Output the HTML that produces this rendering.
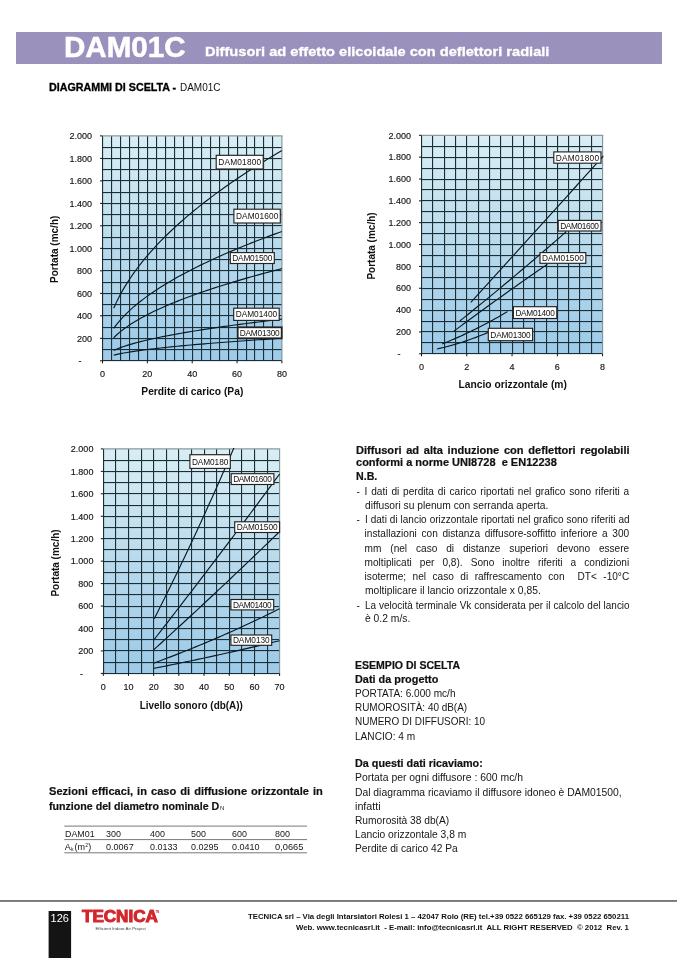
<!DOCTYPE html>
<html lang="it"><head><meta charset="utf-8"><title>DAM01C</title>
<style>
html,body{margin:0;padding:0;background:#fff;}
body{width:677px;height:958px;position:relative;overflow:hidden;font-family:"Liberation Sans", sans-serif;color:#1a1a1a;}
.abs{position:absolute;white-space:nowrap;}
.t{position:absolute;white-space:nowrap;font-size:9.6px;line-height:14px;height:14px;color:#161616;transform-origin:0 50%;}
.j{text-align:justify;text-align-last:justify;white-space:normal;}
.b{font-weight:bold;color:#111;-webkit-text-stroke:0.2px currentColor;}
svg{position:absolute;left:0;top:0;}
svg text{font-family:"Liberation Sans", sans-serif;}
</style></head><body>
<div class="abs" style="left:16px;top:32px;width:646px;height:32px;background:#9a92bc;"></div>
<svg width="677" height="958" viewBox="0 0 677 958">
<defs><linearGradient id="g1" x1="0" y1="0" x2="0" y2="1"><stop offset="0" stop-color="#d9eef4"/><stop offset="0.5" stop-color="#b9daec"/><stop offset="1" stop-color="#9ccae8"/></linearGradient></defs>
<rect x="102.50" y="135.90" width="179.40" height="224.90" fill="url(#g1)"/>
<path d="M102.5 135.90V360.80M111.5 135.90V360.80M120.5 135.90V360.80M129.5 135.90V360.80M138.5 135.90V360.80M147.5 135.90V360.80M156.5 135.90V360.80M165.5 135.90V360.80M174.5 135.90V360.80M183.5 135.90V360.80M192.5 135.90V360.80M201.5 135.90V360.80M210.5 135.90V360.80M219.5 135.90V360.80M228.5 135.90V360.80M237.5 135.90V360.80M246.5 135.90V360.80M254.5 135.90V360.80M263.5 135.90V360.80M272.5 135.90V360.80M102.50 147.5H281.90M102.50 158.5H281.90M102.50 169.5H281.90M102.50 180.5H281.90M102.50 192.5H281.90M102.50 203.5H281.90M102.50 214.5H281.90M102.50 225.5H281.90M102.50 237.5H281.90M102.50 248.5H281.90M102.50 259.5H281.90M102.50 270.5H281.90M102.50 282.5H281.90M102.50 293.5H281.90M102.50 304.5H281.90M102.50 315.5H281.90M102.50 327.5H281.90M102.50 338.5H281.90M102.50 349.5H281.90M102.50 360.5H281.90" stroke="#1b2f36" stroke-width="1" fill="none"/>
<path d="M102.5 135.90V360.80M111.5 135.90V360.80M120.5 135.90V360.80M129.5 135.90V360.80M138.5 135.90V360.80M147.5 135.90V360.80M156.5 135.90V360.80M165.5 135.90V360.80M174.5 135.90V360.80M183.5 135.90V360.80M192.5 135.90V360.80M201.5 135.90V360.80M210.5 135.90V360.80M219.5 135.90V360.80M228.5 135.90V360.80M237.5 135.90V360.80M246.5 135.90V360.80M254.5 135.90V360.80M263.5 135.90V360.80M272.5 135.90V360.80M102.50 147.5H281.90M102.50 158.5H281.90M102.50 169.5H281.90M102.50 180.5H281.90M102.50 192.5H281.90M102.50 203.5H281.90M102.50 214.5H281.90M102.50 225.5H281.90M102.50 237.5H281.90M102.50 248.5H281.90M102.50 259.5H281.90M102.50 270.5H281.90M102.50 282.5H281.90M102.50 293.5H281.90M102.50 304.5H281.90M102.50 315.5H281.90M102.50 327.5H281.90M102.50 338.5H281.90M102.50 349.5H281.90M102.50 360.5H281.90" stroke="#1b2f36" stroke-width="1" fill="none" opacity="0.22" transform="translate(0.5 0.5)"/>
<path d="M281.90 135.90V360.80" stroke="#7d9299" stroke-width="1.1" fill="none"/>
<path d="M102.50 135.90H282.50" stroke="#8a9a9e" stroke-width="1.3" fill="none"/>
<path d="M100.00 135.90H102.50M100.00 158.39H102.50M100.00 180.88H102.50M100.00 203.37H102.50M100.00 225.86H102.50M100.00 248.35H102.50M100.00 270.84H102.50M100.00 293.33H102.50M100.00 315.82H102.50M100.00 338.31H102.50M100.00 360.80H102.50M102.50 360.80V363.30M147.35 360.80V363.30M192.20 360.80V363.30M237.05 360.80V363.30M281.90 360.80V363.30" stroke="#111" stroke-width="1" fill="none"/>
<text x="92.0" y="139.1" font-size="9" text-anchor="end" fill="#151515" stroke="#151515" stroke-width="0.15">2.000</text>
<text x="92.0" y="161.6" font-size="9" text-anchor="end" fill="#151515" stroke="#151515" stroke-width="0.15">1.800</text>
<text x="92.0" y="184.1" font-size="9" text-anchor="end" fill="#151515" stroke="#151515" stroke-width="0.15">1.600</text>
<text x="92.0" y="206.6" font-size="9" text-anchor="end" fill="#151515" stroke="#151515" stroke-width="0.15">1.400</text>
<text x="92.0" y="229.1" font-size="9" text-anchor="end" fill="#151515" stroke="#151515" stroke-width="0.15">1.200</text>
<text x="92.0" y="251.6" font-size="9" text-anchor="end" fill="#151515" stroke="#151515" stroke-width="0.15">1.000</text>
<text x="92.0" y="274.0" font-size="9" text-anchor="end" fill="#151515" stroke="#151515" stroke-width="0.15">800</text>
<text x="92.0" y="296.5" font-size="9" text-anchor="end" fill="#151515" stroke="#151515" stroke-width="0.15">600</text>
<text x="92.0" y="319.0" font-size="9" text-anchor="end" fill="#151515" stroke="#151515" stroke-width="0.15">400</text>
<text x="92.0" y="341.5" font-size="9" text-anchor="end" fill="#151515" stroke="#151515" stroke-width="0.15">200</text>
<text x="81.5" y="364.0" font-size="9" text-anchor="end" fill="#151515" stroke="#151515" stroke-width="0.15">-</text>
<text x="102.5" y="377.3" font-size="9" text-anchor="middle" fill="#151515" stroke="#151515" stroke-width="0.15">0</text>
<text x="147.3" y="377.3" font-size="9" text-anchor="middle" fill="#151515" stroke="#151515" stroke-width="0.15">20</text>
<text x="192.2" y="377.3" font-size="9" text-anchor="middle" fill="#151515" stroke="#151515" stroke-width="0.15">40</text>
<text x="237.0" y="377.3" font-size="9" text-anchor="middle" fill="#151515" stroke="#151515" stroke-width="0.15">60</text>
<text x="281.9" y="377.3" font-size="9" text-anchor="middle" fill="#151515" stroke="#151515" stroke-width="0.15">80</text>
<text x="192.3" y="395.0" font-size="10" font-weight="bold" text-anchor="middle" fill="#111" textLength="102.0" lengthAdjust="spacingAndGlyphs">Perdite di carico (Pa)</text>
<text transform="translate(57.7 249.3) rotate(-90)" font-size="10" font-weight="bold" text-anchor="middle" fill="#111">Portata (mc/h)</text>
<clipPath id="c1"><rect x="102.50" y="134.90" width="180.40" height="225.90"/></clipPath>
<path d="M113.71 308.25L117.08 300.88L120.44 294.33L123.80 288.36L127.17 282.85L130.53 277.71L133.89 272.86L137.26 268.27L140.62 263.90L143.99 259.71L147.35 255.70L150.71 251.83L154.08 248.09L157.44 244.47L160.81 240.96L164.17 237.55L167.53 234.24L170.90 231.01L174.26 227.85L177.62 224.77L180.99 221.76L184.35 218.81L187.71 215.92L191.08 213.09L194.44 210.31L197.81 207.59L201.17 204.91L204.53 202.27L207.90 199.68L211.26 197.13L214.62 194.62L217.99 192.14L221.35 189.70L224.72 187.30L228.08 184.93L231.44 182.59L234.81 180.28L238.17 178.00L241.53 175.74L244.90 173.52L248.26 171.32L251.63 169.15L254.99 167.00L258.35 164.87L261.72 162.77L265.08 160.69L268.44 158.63L271.81 156.59L275.17 154.57L278.54 152.57L281.90 150.59" stroke="#0b1a22" stroke-width="1.15" fill="none" clip-path="url(#c1)"/>
<path d="M113.71 328.46L117.08 323.93L120.44 319.90L123.80 316.23L127.17 312.84L130.53 309.67L133.89 306.69L137.26 303.87L140.62 301.18L143.99 298.60L147.35 296.13L150.71 293.75L154.08 291.45L157.44 289.22L160.81 287.06L164.17 284.97L167.53 282.92L170.90 280.94L174.26 279.00L177.62 277.10L180.99 275.25L184.35 273.43L187.71 271.66L191.08 269.91L194.44 268.20L197.81 266.53L201.17 264.88L204.53 263.25L207.90 261.66L211.26 260.09L214.62 258.54L217.99 257.02L221.35 255.52L224.72 254.04L228.08 252.58L231.44 251.14L234.81 249.72L238.17 248.32L241.53 246.93L244.90 245.56L248.26 244.21L251.63 242.87L254.99 241.55L258.35 240.24L261.72 238.95L265.08 237.67L268.44 236.40L271.81 235.15L275.17 233.90L278.54 232.67L281.90 231.46" stroke="#0b1a22" stroke-width="1.15" fill="none" clip-path="url(#c1)"/>
<path d="M113.71 337.74L117.08 334.51L120.44 331.63L123.80 329.02L127.17 326.60L130.53 324.34L133.89 322.22L137.26 320.20L140.62 318.28L143.99 316.45L147.35 314.68L150.71 312.99L154.08 311.35L157.44 309.76L160.81 308.22L164.17 306.73L167.53 305.27L170.90 303.85L174.26 302.47L177.62 301.12L180.99 299.80L184.35 298.50L187.71 297.23L191.08 295.99L194.44 294.77L197.81 293.58L201.17 292.40L204.53 291.24L207.90 290.11L211.26 288.99L214.62 287.89L217.99 286.80L221.35 285.73L224.72 284.68L228.08 283.63L231.44 282.61L234.81 281.59L238.17 280.59L241.53 279.61L244.90 278.63L248.26 277.66L251.63 276.71L254.99 275.77L258.35 274.84L261.72 273.91L265.08 273.00L268.44 272.10L271.81 271.20L275.17 270.32L278.54 269.44L281.90 268.57" stroke="#0b1a22" stroke-width="1.15" fill="none" clip-path="url(#c1)"/>
<path d="M113.71 350.39L117.08 348.93L120.44 347.63L123.80 346.45L127.17 345.36L130.53 344.34L133.89 343.38L137.26 342.47L140.62 341.61L143.99 340.78L147.35 339.98L150.71 339.21L154.08 338.47L157.44 337.76L160.81 337.06L164.17 336.39L167.53 335.73L170.90 335.09L174.26 334.46L177.62 333.85L180.99 333.26L184.35 332.67L187.71 332.10L191.08 331.54L194.44 330.99L197.81 330.45L201.17 329.92L204.53 329.40L207.90 328.88L211.26 328.38L214.62 327.88L217.99 327.39L221.35 326.91L224.72 326.43L228.08 325.96L231.44 325.50L234.81 325.04L238.17 324.59L241.53 324.14L244.90 323.70L248.26 323.27L251.63 322.84L254.99 322.41L258.35 321.99L261.72 321.57L265.08 321.16L268.44 320.75L271.81 320.35L275.17 319.95L278.54 319.55L281.90 319.16" stroke="#0b1a22" stroke-width="1.15" fill="none" clip-path="url(#c1)"/>
<path d="M113.71 355.17L117.08 354.38L120.44 353.68L123.80 353.04L127.17 352.45L130.53 351.89L133.89 351.38L137.26 350.88L140.62 350.41L143.99 349.97L147.35 349.54L150.71 349.12L154.08 348.72L157.44 348.33L160.81 347.96L164.17 347.59L167.53 347.24L170.90 346.89L174.26 346.55L177.62 346.22L180.99 345.90L184.35 345.58L187.71 345.27L191.08 344.97L194.44 344.67L197.81 344.38L201.17 344.09L204.53 343.81L207.90 343.53L211.26 343.26L214.62 342.99L217.99 342.72L221.35 342.46L224.72 342.20L228.08 341.95L231.44 341.70L234.81 341.45L238.17 341.21L241.53 340.97L244.90 340.73L248.26 340.49L251.63 340.26L254.99 340.03L258.35 339.80L261.72 339.58L265.08 339.35L268.44 339.13L271.81 338.91L275.17 338.70L278.54 338.48L281.90 338.27" stroke="#0b1a22" stroke-width="1.15" fill="none" clip-path="url(#c1)"/>
<rect x="216.2" y="155.3" width="47.0" height="13.7" fill="#fff" stroke="#222" stroke-width="1.15"/>
<text x="239.7" y="165.2" font-size="8.3" text-anchor="middle" fill="#111" textLength="43.0" lengthAdjust="spacing">DAM01800</text>
<rect x="233.9" y="209.2" width="46.4" height="13.8" fill="#fff" stroke="#222" stroke-width="1.15"/>
<text x="257.1" y="219.1" font-size="8.3" text-anchor="middle" fill="#111" textLength="42.4" lengthAdjust="spacing">DAM01600</text>
<rect x="230.3" y="252.6" width="44.0" height="10.9" fill="#fff" stroke="#222" stroke-width="1.15"/>
<text x="252.3" y="261.1" font-size="8.3" text-anchor="middle" fill="#111" textLength="40.0" lengthAdjust="spacing">DAM01500</text>
<rect x="233.7" y="308.2" width="45.5" height="12.2" fill="#fff" stroke="#222" stroke-width="1.15"/>
<text x="256.4" y="317.3" font-size="8.3" text-anchor="middle" fill="#111" textLength="41.5" lengthAdjust="spacing">DAM01400</text>
<rect x="237.7" y="327.3" width="44.0" height="11.0" fill="#fff" stroke="#222" stroke-width="1.8"/>
<text x="259.7" y="335.8" font-size="8.3" text-anchor="middle" fill="#111" textLength="40.0" lengthAdjust="spacing">DAM01300</text>
<defs><linearGradient id="g2" x1="0" y1="0" x2="0" y2="1"><stop offset="0" stop-color="#d9eef4"/><stop offset="0.5" stop-color="#b9daec"/><stop offset="1" stop-color="#9ccae8"/></linearGradient></defs>
<rect x="421.50" y="135.30" width="181.10" height="218.50" fill="url(#g2)"/>
<path d="M421.5 135.30V353.80M432.5 135.30V353.80M444.5 135.30V353.80M455.5 135.30V353.80M466.5 135.30V353.80M478.5 135.30V353.80M489.5 135.30V353.80M500.5 135.30V353.80M512.5 135.30V353.80M523.5 135.30V353.80M534.5 135.30V353.80M546.5 135.30V353.80M557.5 135.30V353.80M568.5 135.30V353.80M579.5 135.30V353.80M591.5 135.30V353.80M421.50 146.5H602.60M421.50 157.5H602.60M421.50 168.5H602.60M421.50 179.5H602.60M421.50 189.5H602.60M421.50 200.5H602.60M421.50 211.5H602.60M421.50 222.5H602.60M421.50 233.5H602.60M421.50 244.5H602.60M421.50 255.5H602.60M421.50 266.5H602.60M421.50 277.5H602.60M421.50 288.5H602.60M421.50 299.5H602.60M421.50 310.5H602.60M421.50 321.5H602.60M421.50 331.5H602.60M421.50 342.5H602.60M421.50 353.5H602.60" stroke="#1b2f36" stroke-width="1" fill="none"/>
<path d="M421.5 135.30V353.80M432.5 135.30V353.80M444.5 135.30V353.80M455.5 135.30V353.80M466.5 135.30V353.80M478.5 135.30V353.80M489.5 135.30V353.80M500.5 135.30V353.80M512.5 135.30V353.80M523.5 135.30V353.80M534.5 135.30V353.80M546.5 135.30V353.80M557.5 135.30V353.80M568.5 135.30V353.80M579.5 135.30V353.80M591.5 135.30V353.80M421.50 146.5H602.60M421.50 157.5H602.60M421.50 168.5H602.60M421.50 179.5H602.60M421.50 189.5H602.60M421.50 200.5H602.60M421.50 211.5H602.60M421.50 222.5H602.60M421.50 233.5H602.60M421.50 244.5H602.60M421.50 255.5H602.60M421.50 266.5H602.60M421.50 277.5H602.60M421.50 288.5H602.60M421.50 299.5H602.60M421.50 310.5H602.60M421.50 321.5H602.60M421.50 331.5H602.60M421.50 342.5H602.60M421.50 353.5H602.60" stroke="#1b2f36" stroke-width="1" fill="none" opacity="0.22" transform="translate(0.5 0.5)"/>
<path d="M602.60 135.30V353.80" stroke="#7d9299" stroke-width="1.1" fill="none"/>
<path d="M421.50 135.30H603.20" stroke="#8a9a9e" stroke-width="1.3" fill="none"/>
<path d="M419.00 135.30H421.50M419.00 157.15H421.50M419.00 179.00H421.50M419.00 200.85H421.50M419.00 222.70H421.50M419.00 244.55H421.50M419.00 266.40H421.50M419.00 288.25H421.50M419.00 310.10H421.50M419.00 331.95H421.50M419.00 353.80H421.50M421.50 353.80V356.30M466.77 353.80V356.30M512.05 353.80V356.30M557.33 353.80V356.30M602.60 353.80V356.30" stroke="#111" stroke-width="1" fill="none"/>
<text x="411.0" y="138.5" font-size="9" text-anchor="end" fill="#151515" stroke="#151515" stroke-width="0.15">2.000</text>
<text x="411.0" y="160.3" font-size="9" text-anchor="end" fill="#151515" stroke="#151515" stroke-width="0.15">1.800</text>
<text x="411.0" y="182.2" font-size="9" text-anchor="end" fill="#151515" stroke="#151515" stroke-width="0.15">1.600</text>
<text x="411.0" y="204.1" font-size="9" text-anchor="end" fill="#151515" stroke="#151515" stroke-width="0.15">1.400</text>
<text x="411.0" y="225.9" font-size="9" text-anchor="end" fill="#151515" stroke="#151515" stroke-width="0.15">1.200</text>
<text x="411.0" y="247.8" font-size="9" text-anchor="end" fill="#151515" stroke="#151515" stroke-width="0.15">1.000</text>
<text x="411.0" y="269.6" font-size="9" text-anchor="end" fill="#151515" stroke="#151515" stroke-width="0.15">800</text>
<text x="411.0" y="291.4" font-size="9" text-anchor="end" fill="#151515" stroke="#151515" stroke-width="0.15">600</text>
<text x="411.0" y="313.3" font-size="9" text-anchor="end" fill="#151515" stroke="#151515" stroke-width="0.15">400</text>
<text x="411.0" y="335.2" font-size="9" text-anchor="end" fill="#151515" stroke="#151515" stroke-width="0.15">200</text>
<text x="400.5" y="357.0" font-size="9" text-anchor="end" fill="#151515" stroke="#151515" stroke-width="0.15">-</text>
<text x="421.5" y="370.2" font-size="9" text-anchor="middle" fill="#151515" stroke="#151515" stroke-width="0.15">0</text>
<text x="466.8" y="370.2" font-size="9" text-anchor="middle" fill="#151515" stroke="#151515" stroke-width="0.15">2</text>
<text x="512.0" y="370.2" font-size="9" text-anchor="middle" fill="#151515" stroke="#151515" stroke-width="0.15">4</text>
<text x="557.3" y="370.2" font-size="9" text-anchor="middle" fill="#151515" stroke="#151515" stroke-width="0.15">6</text>
<text x="602.6" y="370.2" font-size="9" text-anchor="middle" fill="#151515" stroke="#151515" stroke-width="0.15">8</text>
<text x="512.7" y="388.0" font-size="10" font-weight="bold" text-anchor="middle" fill="#111" textLength="108.3" lengthAdjust="spacingAndGlyphs">Lancio orizzontale (m)</text>
<text transform="translate(375.0 246.0) rotate(-90)" font-size="10" font-weight="bold" text-anchor="middle" fill="#111">Portata (mc/h)</text>
<clipPath id="c2"><rect x="421.50" y="134.30" width="182.10" height="219.50"/></clipPath>
<path d="M470.85 302.27L474.25 298.54L477.65 294.80L481.05 291.06L484.46 287.32L487.86 283.58L491.26 279.84L494.66 276.10L498.06 272.35L501.46 268.61L504.86 264.86L508.27 261.12L511.67 257.37L515.07 253.62L518.47 249.87L521.87 246.13L525.27 242.37L528.67 238.62L532.08 234.87L535.48 231.12L538.88 227.36L542.28 223.61L545.68 219.85L549.08 216.09L552.48 212.33L555.89 208.57L559.29 204.81L562.69 201.05L566.09 197.29L569.49 193.53L572.89 189.76L576.29 186.00L579.70 182.23L583.10 178.46L586.50 174.70L589.90 170.93L593.30 167.16L596.70 163.39L600.10 159.61L603.51 155.84" stroke="#0b1a22" stroke-width="1.15" fill="none" clip-path="url(#c2)"/>
<path d="M459.76 321.04L462.49 318.84L465.23 316.64L467.96 314.44L470.69 312.23L473.43 310.01L476.16 307.79L478.89 305.57L481.63 303.34L484.36 301.10L487.10 298.86L489.83 296.61L492.56 294.36L495.30 292.10L498.03 289.84L500.77 287.57L503.50 285.30L506.23 283.02L508.97 280.73L511.70 278.44L514.44 276.15L517.17 273.85L519.90 271.54L522.64 269.23L525.37 266.92L528.11 264.60L530.84 262.27L533.57 259.94L536.31 257.60L539.04 255.26L541.77 252.91L544.51 250.56L547.24 248.20L549.98 245.83L552.71 243.47L555.44 241.09L558.18 238.71L560.91 236.33L563.65 233.94L566.38 231.54" stroke="#0b1a22" stroke-width="1.15" fill="none" clip-path="url(#c2)"/>
<path d="M453.87 331.18L456.27 329.40L458.67 327.62L461.06 325.84L463.46 324.07L465.86 322.30L468.26 320.53L470.65 318.77L473.05 317.01L475.45 315.25L477.84 313.50L480.24 311.75L482.64 310.01L485.04 308.27L487.43 306.53L489.83 304.79L492.23 303.06L494.62 301.33L497.02 299.61L499.42 297.89L501.82 296.17L504.21 294.46L506.61 292.75L509.01 291.04L511.41 289.34L513.80 287.64L516.20 285.94L518.60 284.25L520.99 282.56L523.39 280.88L525.79 279.20L528.19 277.52L530.58 275.84L532.98 274.17L535.38 272.50L537.78 270.84L540.17 269.18L542.57 267.52L544.97 265.87L547.36 264.22" stroke="#0b1a22" stroke-width="1.15" fill="none" clip-path="url(#c2)"/>
<path d="M442.10 344.01L443.78 343.34L445.46 342.65L447.13 341.96L448.81 341.27L450.49 340.56L452.17 339.84L453.84 339.12L455.52 338.39L457.20 337.65L458.88 336.90L460.55 336.15L462.23 335.38L463.91 334.61L465.59 333.83L467.26 333.04L468.94 332.24L470.62 331.44L472.30 330.62L473.97 329.80L475.65 328.97L477.33 328.13L479.01 327.29L480.68 326.43L482.36 325.57L484.04 324.70L485.72 323.82L487.39 322.93L489.07 322.03L490.75 321.13L492.43 320.22L494.10 319.29L495.78 318.37L497.46 317.43L499.14 316.48L500.81 315.53L502.49 314.56L504.17 313.59L505.85 312.62L507.52 311.63" stroke="#0b1a22" stroke-width="1.15" fill="none" clip-path="url(#c2)"/>
<path d="M436.89 349.02L438.22 348.72L439.54 348.42L440.86 348.11L442.19 347.79L443.51 347.47L444.83 347.14L446.16 346.80L447.48 346.45L448.80 346.10L450.13 345.74L451.45 345.37L452.77 345.00L454.10 344.62L455.42 344.23L456.74 343.84L458.07 343.44L459.39 343.03L460.72 342.61L462.04 342.19L463.36 341.76L464.69 341.33L466.01 340.88L467.33 340.43L468.66 339.98L469.98 339.51L471.30 339.04L472.63 338.56L473.95 338.08L475.27 337.59L476.60 337.09L477.92 336.58L479.24 336.07L480.57 335.55L481.89 335.02L483.21 334.49L484.54 333.94L485.86 333.40L487.18 332.84L488.51 332.28" stroke="#0b1a22" stroke-width="1.15" fill="none" clip-path="url(#c2)"/>
<rect x="553.8" y="151.9" width="47.2" height="11.3" fill="#fff" stroke="#222" stroke-width="1.15"/>
<text x="577.4" y="160.6" font-size="8.3" text-anchor="middle" fill="#111" textLength="43.2" lengthAdjust="spacing">DAM01800</text>
<rect x="558.2" y="220.4" width="42.8" height="10.6" fill="#fff" stroke="#222" stroke-width="1.15"/>
<text x="579.6" y="228.7" font-size="8.3" text-anchor="middle" fill="#111" textLength="38.8" lengthAdjust="spacing">DAM01600</text>
<rect x="540.0" y="252.6" width="45.8" height="10.7" fill="#fff" stroke="#222" stroke-width="1.15"/>
<text x="562.9" y="260.9" font-size="8.3" text-anchor="middle" fill="#111" textLength="41.8" lengthAdjust="spacing">DAM01500</text>
<rect x="513.4" y="306.7" width="43.4" height="11.8" fill="#fff" stroke="#222" stroke-width="1.15"/>
<text x="535.1" y="315.6" font-size="8.3" text-anchor="middle" fill="#111" textLength="39.4" lengthAdjust="spacing">DAM01400</text>
<rect x="488.3" y="328.3" width="44.3" height="12.4" fill="#fff" stroke="#222" stroke-width="1.15"/>
<text x="510.5" y="337.5" font-size="8.3" text-anchor="middle" fill="#111" textLength="40.3" lengthAdjust="spacing">DAM01300</text>
<defs><linearGradient id="g3" x1="0" y1="0" x2="0" y2="1"><stop offset="0" stop-color="#d9eef4"/><stop offset="0.5" stop-color="#b9daec"/><stop offset="1" stop-color="#9ccae8"/></linearGradient></defs>
<rect x="103.30" y="448.90" width="176.30" height="224.50" fill="url(#g3)"/>
<path d="M103.5 448.90V673.40M115.5 448.90V673.40M128.5 448.90V673.40M141.5 448.90V673.40M153.5 448.90V673.40M166.5 448.90V673.40M178.5 448.90V673.40M191.5 448.90V673.40M204.5 448.90V673.40M216.5 448.90V673.40M229.5 448.90V673.40M241.5 448.90V673.40M254.5 448.90V673.40M267.5 448.90V673.40M103.30 460.5H279.60M103.30 471.5H279.60M103.30 482.5H279.60M103.30 493.5H279.60M103.30 505.5H279.60M103.30 516.5H279.60M103.30 527.5H279.60M103.30 538.5H279.60M103.30 549.5H279.60M103.30 561.5H279.60M103.30 572.5H279.60M103.30 583.5H279.60M103.30 594.5H279.60M103.30 606.5H279.60M103.30 617.5H279.60M103.30 628.5H279.60M103.30 639.5H279.60M103.30 650.5H279.60M103.30 662.5H279.60M103.30 673.5H279.60" stroke="#1b2f36" stroke-width="1" fill="none"/>
<path d="M103.5 448.90V673.40M115.5 448.90V673.40M128.5 448.90V673.40M141.5 448.90V673.40M153.5 448.90V673.40M166.5 448.90V673.40M178.5 448.90V673.40M191.5 448.90V673.40M204.5 448.90V673.40M216.5 448.90V673.40M229.5 448.90V673.40M241.5 448.90V673.40M254.5 448.90V673.40M267.5 448.90V673.40M103.30 460.5H279.60M103.30 471.5H279.60M103.30 482.5H279.60M103.30 493.5H279.60M103.30 505.5H279.60M103.30 516.5H279.60M103.30 527.5H279.60M103.30 538.5H279.60M103.30 549.5H279.60M103.30 561.5H279.60M103.30 572.5H279.60M103.30 583.5H279.60M103.30 594.5H279.60M103.30 606.5H279.60M103.30 617.5H279.60M103.30 628.5H279.60M103.30 639.5H279.60M103.30 650.5H279.60M103.30 662.5H279.60M103.30 673.5H279.60" stroke="#1b2f36" stroke-width="1" fill="none" opacity="0.22" transform="translate(0.5 0.5)"/>
<path d="M279.60 448.90V673.40" stroke="#7d9299" stroke-width="1.1" fill="none"/>
<path d="M103.30 448.90H280.20" stroke="#8a9a9e" stroke-width="1.3" fill="none"/>
<path d="M100.80 448.90H103.30M100.80 471.35H103.30M100.80 493.80H103.30M100.80 516.25H103.30M100.80 538.70H103.30M100.80 561.15H103.30M100.80 583.60H103.30M100.80 606.05H103.30M100.80 628.50H103.30M100.80 650.95H103.30M100.80 673.40H103.30M103.30 673.40V675.90M128.49 673.40V675.90M153.67 673.40V675.90M178.86 673.40V675.90M204.04 673.40V675.90M229.23 673.40V675.90M254.41 673.40V675.90M279.60 673.40V675.90" stroke="#111" stroke-width="1" fill="none"/>
<text x="93.4" y="452.1" font-size="9" text-anchor="end" fill="#151515" stroke="#151515" stroke-width="0.15">2.000</text>
<text x="93.4" y="474.5" font-size="9" text-anchor="end" fill="#151515" stroke="#151515" stroke-width="0.15">1.800</text>
<text x="93.4" y="497.0" font-size="9" text-anchor="end" fill="#151515" stroke="#151515" stroke-width="0.15">1.600</text>
<text x="93.4" y="519.5" font-size="9" text-anchor="end" fill="#151515" stroke="#151515" stroke-width="0.15">1.400</text>
<text x="93.4" y="541.9" font-size="9" text-anchor="end" fill="#151515" stroke="#151515" stroke-width="0.15">1.200</text>
<text x="93.4" y="564.4" font-size="9" text-anchor="end" fill="#151515" stroke="#151515" stroke-width="0.15">1.000</text>
<text x="93.4" y="586.8" font-size="9" text-anchor="end" fill="#151515" stroke="#151515" stroke-width="0.15">800</text>
<text x="93.4" y="609.2" font-size="9" text-anchor="end" fill="#151515" stroke="#151515" stroke-width="0.15">600</text>
<text x="93.4" y="631.7" font-size="9" text-anchor="end" fill="#151515" stroke="#151515" stroke-width="0.15">400</text>
<text x="93.4" y="654.2" font-size="9" text-anchor="end" fill="#151515" stroke="#151515" stroke-width="0.15">200</text>
<text x="82.9" y="676.6" font-size="9" text-anchor="end" fill="#151515" stroke="#151515" stroke-width="0.15">-</text>
<text x="103.3" y="689.6" font-size="9" text-anchor="middle" fill="#151515" stroke="#151515" stroke-width="0.15">0</text>
<text x="128.5" y="689.6" font-size="9" text-anchor="middle" fill="#151515" stroke="#151515" stroke-width="0.15">10</text>
<text x="153.7" y="689.6" font-size="9" text-anchor="middle" fill="#151515" stroke="#151515" stroke-width="0.15">20</text>
<text x="178.9" y="689.6" font-size="9" text-anchor="middle" fill="#151515" stroke="#151515" stroke-width="0.15">30</text>
<text x="204.0" y="689.6" font-size="9" text-anchor="middle" fill="#151515" stroke="#151515" stroke-width="0.15">40</text>
<text x="229.2" y="689.6" font-size="9" text-anchor="middle" fill="#151515" stroke="#151515" stroke-width="0.15">50</text>
<text x="254.4" y="689.6" font-size="9" text-anchor="middle" fill="#151515" stroke="#151515" stroke-width="0.15">60</text>
<text x="279.6" y="689.6" font-size="9" text-anchor="middle" fill="#151515" stroke="#151515" stroke-width="0.15">70</text>
<text x="191.3" y="708.6" font-size="10" font-weight="bold" text-anchor="middle" fill="#111" textLength="103.2" lengthAdjust="spacingAndGlyphs">Livello sonoro (db(A))</text>
<text transform="translate(58.5 563.0) rotate(-90)" font-size="10" font-weight="bold" text-anchor="middle" fill="#111">Portata (mc/h)</text>
<clipPath id="c3"><rect x="103.30" y="447.90" width="177.30" height="225.50"/></clipPath>
<path d="M154.18 618.80L156.29 614.64L158.41 610.46L160.53 606.26L162.65 602.04L164.77 597.79L166.88 593.53L169.00 589.24L171.12 584.93L173.24 580.61L175.36 576.26L177.48 571.89L179.59 567.50L181.71 563.09L183.83 558.66L185.95 554.21L188.07 549.73L190.18 545.24L192.30 540.73L194.42 536.19L196.54 531.64L198.66 527.06L200.78 522.46L202.89 517.84L205.01 513.20L207.13 508.54L209.25 503.86L211.37 499.16L213.48 494.44L215.60 489.69L217.72 484.93L219.84 480.15L221.96 475.34L224.08 470.51L226.19 465.67L228.31 460.80L230.43 455.91L232.55 451.00L234.67 446.07L236.78 441.12" stroke="#0b1a22" stroke-width="1.15" fill="none" clip-path="url(#c3)"/>
<path d="M153.67 640.11L156.90 635.98L160.13 631.83L163.36 627.68L166.59 623.53L169.82 619.37L173.05 615.20L176.27 611.02L179.50 606.84L182.73 602.65L185.96 598.46L189.19 594.26L192.42 590.05L195.65 585.84L198.88 581.62L202.11 577.39L205.33 573.16L208.56 568.92L211.79 564.67L215.02 560.42L218.25 556.16L221.48 551.90L224.71 547.62L227.94 543.34L231.17 539.06L234.39 534.77L237.62 530.47L240.85 526.17L244.08 521.86L247.31 517.54L250.54 513.22L253.77 508.89L257.00 504.55L260.23 500.21L263.46 495.86L266.68 491.50L269.91 487.14L273.14 482.77L276.37 478.39L279.60 474.01" stroke="#0b1a22" stroke-width="1.15" fill="none" clip-path="url(#c3)"/>
<path d="M153.67 649.85L156.90 646.91L160.13 643.97L163.36 641.03L166.59 638.08L169.82 635.12L173.05 632.16L176.27 629.20L179.50 626.23L182.73 623.25L185.96 620.27L189.19 617.29L192.42 614.29L195.65 611.30L198.88 608.30L202.11 605.29L205.33 602.28L208.56 599.26L211.79 596.24L215.02 593.22L218.25 590.18L221.48 587.15L224.71 584.11L227.94 581.06L231.17 578.01L234.39 574.95L237.62 571.89L240.85 568.82L244.08 565.75L247.31 562.67L250.54 559.59L253.77 556.50L257.00 553.41L260.23 550.31L263.46 547.21L266.68 544.10L269.91 540.98L273.14 537.87L276.37 534.74L279.60 531.61" stroke="#0b1a22" stroke-width="1.15" fill="none" clip-path="url(#c3)"/>
<path d="M153.67 663.11L156.90 661.93L160.13 660.74L163.36 659.54L166.59 658.32L169.82 657.10L173.05 655.86L176.27 654.61L179.50 653.35L182.73 652.08L185.96 650.80L189.19 649.50L192.42 648.20L195.65 646.88L198.88 645.55L202.11 644.22L205.33 642.87L208.56 641.51L211.79 640.13L215.02 638.75L218.25 637.36L221.48 635.95L224.71 634.53L227.94 633.10L231.17 631.66L234.39 630.21L237.62 628.75L240.85 627.28L244.08 625.79L247.31 624.30L250.54 622.79L253.77 621.27L257.00 619.74L260.23 618.20L263.46 616.65L266.68 615.08L269.91 613.51L273.14 611.92L276.37 610.33L279.60 608.72" stroke="#0b1a22" stroke-width="1.15" fill="none" clip-path="url(#c3)"/>
<path d="M153.67 668.39L156.90 667.75L160.13 667.11L163.36 666.47L166.59 665.83L169.82 665.18L173.05 664.52L176.27 663.86L179.50 663.20L182.73 662.54L185.96 661.87L189.19 661.19L192.42 660.51L195.65 659.83L198.88 659.15L202.11 658.46L205.33 657.76L208.56 657.07L211.79 656.36L215.02 655.66L218.25 654.95L221.48 654.23L224.71 653.52L227.94 652.80L231.17 652.07L234.39 651.34L237.62 650.61L240.85 649.87L244.08 649.13L247.31 648.38L250.54 647.63L253.77 646.88L257.00 646.12L260.23 645.36L263.46 644.60L266.68 643.83L269.91 643.05L273.14 642.28L276.37 641.50L279.60 640.71" stroke="#0b1a22" stroke-width="1.15" fill="none" clip-path="url(#c3)"/>
<rect x="189.9" y="454.7" width="40.4" height="13.7" fill="#fff" stroke="#222" stroke-width="1.15"/>
<text x="210.1" y="464.5" font-size="8.3" text-anchor="middle" fill="#111" textLength="36.4" lengthAdjust="spacing">DAM0180</text>
<rect x="231.2" y="473.7" width="42.7" height="10.8" fill="#fff" stroke="#222" stroke-width="1.15"/>
<text x="252.5" y="482.1" font-size="8.3" text-anchor="middle" fill="#111" textLength="38.7" lengthAdjust="spacing">DAM01600</text>
<rect x="234.7" y="521.8" width="44.9" height="10.7" fill="#fff" stroke="#222" stroke-width="1.15"/>
<text x="257.1" y="530.1" font-size="8.3" text-anchor="middle" fill="#111" textLength="40.9" lengthAdjust="spacing">DAM01500</text>
<rect x="230.9" y="599.5" width="42.8" height="10.4" fill="#fff" stroke="#222" stroke-width="1.15"/>
<text x="252.3" y="607.7" font-size="8.3" text-anchor="middle" fill="#111" textLength="38.8" lengthAdjust="spacing">DAM01400</text>
<rect x="230.9" y="635.0" width="40.8" height="10.3" fill="#fff" stroke="#222" stroke-width="1.15"/>
<text x="251.3" y="643.1" font-size="8.3" text-anchor="middle" fill="#111" textLength="36.8" lengthAdjust="spacing">DAM0130</text>
<path d="M64.3 826.1H307M64.3 839.6H307M64.3 852.8H307" stroke="#555" stroke-width="0.8" fill="none"/>
<rect x="0" y="900.1" width="677" height="1.7" fill="#686868"/>
<rect x="48.6" y="911" width="22.5" height="47" fill="#141414"/>
</svg>
<div class="t b" style="left:355.6px;top:443.40px;font-size:10.6px;word-spacing:1.550px;transform:scaleX(1.0450);">Diffusori ad alta induzione con deflettori regolabili</div>
<div class="t b" style="left:355.6px;top:455.20px;font-size:10.6px;transform:scaleX(1.0397);">conformi a norme UNI8728&nbsp; e EN12238</div>
<div class="t b" style="left:355.6px;top:469.40px;font-size:10.6px;transform:scaleX(1.0053);">N.B.</div>
<div class="t" style="left:356.5px;top:484.66px;font-size:10.1px;">-</div>
<div class="t" style="left:364.6px;top:484.66px;font-size:10.1px;word-spacing:1.052px;transform:scaleX(1.0000);">I dati di perdita di carico riportati nel grafico sono riferiti a</div>
<div class="t" style="left:364.6px;top:498.86px;font-size:10.1px;transform:scaleX(1.0155);">diffusori su plenum con serranda aperta.</div>
<div class="t" style="left:356.5px;top:513.06px;font-size:10.1px;">-</div>
<div class="t" style="left:364.6px;top:513.06px;font-size:10.1px;word-spacing:0.200px;transform:scaleX(0.9896);">I dati di lancio orizzontale riportati nel grafico sono riferiti ad</div>
<div class="t" style="left:364.6px;top:527.26px;font-size:10.1px;word-spacing:1.892px;transform:scaleX(1.0000);">installazioni con distanza diffusore-soffitto inferiore a 300</div>
<div class="t" style="left:364.6px;top:541.86px;font-size:10.1px;word-spacing:6.061px;transform:scaleX(1.0000);">mm (nel caso di distanze superiori devono essere</div>
<div class="t" style="left:364.6px;top:555.56px;font-size:10.1px;word-spacing:5.260px;transform:scaleX(1.0000);">moltiplicati per 0,8). Sono inoltre riferiti a condizioni</div>
<div class="t" style="left:364.6px;top:569.66px;font-size:10.1px;word-spacing:3.665px;transform:scaleX(1.0000);">isoterme; nel caso di raffrescamento con&nbsp; DT&lt; -10°C</div>
<div class="t" style="left:364.6px;top:583.96px;font-size:10.1px;transform:scaleX(1.0206);">moltiplicare il lancio orizzontale x 0,85.</div>
<div class="t" style="left:356.5px;top:598.56px;font-size:10.1px;">-</div>
<div class="t" style="left:364.6px;top:598.56px;font-size:10.1px;word-spacing:0.200px;transform:scaleX(0.9862);">La velocità terminale Vk considerata per il calcolo del lancio</div>
<div class="t" style="left:364.6px;top:612.26px;font-size:10.1px;transform:scaleX(1.0219);">è 0.2 m/s.</div>
<div class="t b" style="left:355.4px;top:657.70px;font-size:10.6px;transform:scaleX(0.9947);">ESEMPIO DI SCELTA</div>
<div class="t b" style="left:355.4px;top:671.80px;font-size:10.6px;transform:scaleX(1.0256);">Dati da progetto</div>
<div class="t" style="left:355.4px;top:686.66px;font-size:10.1px;transform:scaleX(0.9971);">PORTATA: 6.000 mc/h</div>
<div class="t" style="left:355.4px;top:701.06px;font-size:10.1px;transform:scaleX(0.9845);">RUMOROSITÀ: 40 dB(A)</div>
<div class="t" style="left:355.4px;top:715.46px;font-size:10.1px;transform:scaleX(0.9871);">NUMERO DI DIFFUSORI: 10</div>
<div class="t" style="left:355.4px;top:729.76px;font-size:10.1px;transform:scaleX(1.0014);">LANCIO: 4 m</div>
<div class="t b" style="left:355.4px;top:756.20px;font-size:10.6px;transform:scaleX(1.0191);">Da questi dati ricaviamo:</div>
<div class="t" style="left:355.4px;top:771.46px;font-size:10.1px;transform:scaleX(1.0301);">Portata per ogni diffusore : 600 mc/h</div>
<div class="t" style="left:355.4px;top:785.66px;font-size:10.1px;transform:scaleX(1.0230);">Dal diagramma ricaviamo il diffusore idoneo è DAM01500,</div>
<div class="t" style="left:355.4px;top:799.76px;font-size:10.1px;transform:scaleX(1.0646);">infatti</div>
<div class="t" style="left:355.4px;top:813.96px;font-size:10.1px;transform:scaleX(1.0114);">Rumorosità 38 db(A)</div>
<div class="t" style="left:355.4px;top:828.16px;font-size:10.1px;transform:scaleX(1.0172);">Lancio orizzontale 3,8 m</div>
<div class="t" style="left:355.4px;top:841.86px;font-size:10.1px;transform:scaleX(1.0112);">Perdite di carico 42 Pa</div>
<div class="t b" style="left:49.0px;top:784.20px;font-size:10.6px;word-spacing:0.934px;transform:scaleX(1.0450);">Sezioni efficaci, in caso di diffusione orizzontale in</div>
<div class="t b" style="left:49.0px;top:798.80px;font-size:10.6px;transform:scaleX(1.0046);">funzione del diametro nominale D</div>
<div class="t" style="left:220.0px;top:800.62px;font-size:6.0px;">N</div>
<div class="t" style="left:64.8px;top:827.43px;font-size:9.0px;transform:scaleX(0.9862);">DAM01</div>
<div class="t" style="left:106.2px;top:827.43px;font-size:9.0px;transform:scaleX(0.9913);">300</div>
<div class="t" style="left:150.4px;top:827.43px;font-size:9.0px;transform:scaleX(0.9913);">400</div>
<div class="t" style="left:190.8px;top:827.43px;font-size:9.0px;transform:scaleX(0.9913);">500</div>
<div class="t" style="left:231.6px;top:827.43px;font-size:9.0px;transform:scaleX(0.9913);">600</div>
<div class="t" style="left:275.0px;top:827.43px;font-size:9.0px;transform:scaleX(0.9913);">800</div>
<div class="t" style="left:64.8px;top:840.43px;font-size:9.0px;">A</div>
<div class="t" style="left:70.9px;top:842.15px;font-size:5.0px;">k</div>
<div class="t" style="left:74.6px;top:840.43px;font-size:9.0px;">(m</div>
<div class="t" style="left:85.2px;top:838.35px;font-size:5.0px;">2</div>
<div class="t" style="left:88.2px;top:840.43px;font-size:9.0px;">)</div>
<div class="t" style="left:106.2px;top:840.43px;font-size:9.0px;transform:scaleX(1.0061);">0.0067</div>
<div class="t" style="left:150.4px;top:840.43px;font-size:9.0px;transform:scaleX(0.9952);">0.0133</div>
<div class="t" style="left:190.8px;top:840.43px;font-size:9.0px;transform:scaleX(0.9989);">0.0295</div>
<div class="t" style="left:231.6px;top:840.43px;font-size:9.0px;transform:scaleX(0.9989);">0.0410</div>
<div class="t" style="left:275.0px;top:840.43px;font-size:9.0px;transform:scaleX(1.0316);">0,0665</div>
<div class="t b" style="left:63.8px;top:39.85px;font-size:28.6px;transform:scaleX(1.0342);color:#fff;line-height:34px;height:34px;margin-top:-10px;-webkit-text-stroke:0.5px #fff;">DAM01C</div>
<div class="t b" style="left:205.2px;top:45.00px;font-size:13.3px;transform:scaleX(1.0994);color:#fff;-webkit-text-stroke:0.3px #fff;">Diffusori ad effetto elicoidale con deflettori radiali</div>
<div class="t b" style="left:49.0px;top:80.03px;font-size:10.5px;transform:scaleX(1.0205);color:#000;-webkit-text-stroke:0.3px #000;">DIAGRAMMI DI SCELTA -</div>
<div class="t" style="left:180.1px;top:80.03px;font-size:10.5px;transform:scaleX(0.9505);color:#111;">DAM01C</div>
<div class="t b" style="left:248.0px;top:909.75px;font-size:6.8px;transform:scaleX(1.1446);-webkit-text-stroke:0;">TECNICA srl – Via degli Intarsiatori Rolesi 1 – 42047 Rolo (RE) tel.+39 0522 665129 fax. +39 0522 650211</div>
<div class="t b" style="left:296.1px;top:920.65px;font-size:6.8px;transform:scaleX(1.1459);-webkit-text-stroke:0;">Web. www.tecnicasrl.it&nbsp; - E-mail: info@tecnicasrl.it&nbsp; ALL RIGHT RESERVED&nbsp; © 2012&nbsp; Rev. 1</div>
<div class="abs" style="left:50.6px;top:912.1px;font-size:11px;line-height:13px;color:#fff;">126</div>
<div class="abs" style="left:82.0px;top:907.2px;font-size:16px;line-height:20px;font-weight:bold;color:#d2272d;-webkit-text-stroke:1px #d2272d;transform-origin:0 0;transform:scaleX(1.066);">TECNICA</div>
<div class="abs" style="left:155.4px;top:910.6px;font-size:2.6px;line-height:3px;color:#d2272d;font-weight:bold;">TM</div>
<div class="abs" style="left:95.4px;top:925.8px;font-size:4.4px;line-height:6px;color:#444;">Efficient Indoor Air Project</div>
</body></html>
